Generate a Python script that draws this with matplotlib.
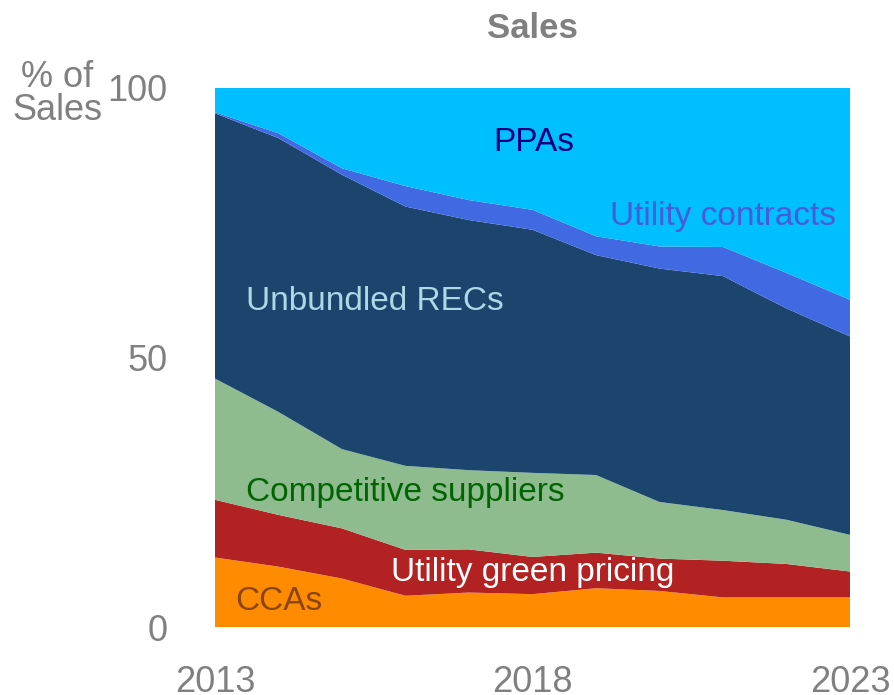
import matplotlib
matplotlib.use("Agg")
import matplotlib.pyplot as plt

plt.rcParams['font.family'] = ['Liberation Sans', 'DejaVu Sans']

years = list(range(2013, 2024))

# shares of sales (%), bottom to top
ccas = [12.9, 11.2, 9.0, 5.8, 6.4, 6.1, 7.2, 6.7, 5.5, 5.5, 5.5]
green_pricing = [10.7, 9.6, 9.3, 8.5, 8.0, 6.9, 6.6, 6.0, 6.8, 6.2, 4.8]
competitive = [22.5, 19.1, 14.7, 15.6, 14.7, 15.6, 14.4, 10.5, 9.4, 8.2, 6.8]
unbundled_recs = [49.2, 50.8, 50.9, 48.1, 46.4, 45.1, 40.8, 43.3, 43.4, 39.2, 36.8]
utility_contracts = [0.2, 0.9, 1.2, 3.8, 3.7, 3.7, 3.5, 4.1, 5.4, 6.6, 6.8]
ppas = [4.5, 8.4, 14.9, 18.2, 20.8, 22.6, 27.5, 29.4, 29.5, 34.3, 39.3]

colors = ['#ff8c00', '#b22222', '#8fbc8f', '#1b456d', '#4169e1', '#00bfff']

fig = plt.figure(figsize=(8.95, 6.95), dpi=100)
ax = fig.add_axes([0.2402, 0.0978, 0.7095, 0.7756])

ax.stackplot(years, ccas, green_pricing, competitive, unbundled_recs,
             utility_contracts, ppas, colors=colors, linewidth=0)

ax.set_xlim(2013, 2023)
ax.set_ylim(0, 100)
ax.set_xticks([2013, 2018, 2023])
ax.set_yticks([0, 50, 100])
for s in ax.spines.values():
    s.set_visible(False)
ax.tick_params(length=0, labelsize=26, labelcolor='#808080')
ax.tick_params(axis='y', pad=34)
ax.tick_params(axis='x', pad=27)

ax.set_title('Sales', fontsize=25, fontweight='bold', color='#808080', pad=36)
fig.text(57 / 895, 1 - 94 / 695, '% of\nSales', fontsize=26, color='#808080',
         ha='center', va='center', linespacing=0.95)

lab = dict(fontsize=24, ha='center', va='center')
ax.text(2018.02, 89.8, 'PPAs', color='#000080', **lab)
ax.text(2021.0, 76.1, 'Utility contracts', color='#4a5ad8', **lab)
ax.text(2015.52, 60.3, 'Unbundled RECs', color='#add8e6', **lab)
ax.text(2015.99, 25.0, 'Competitive suppliers', color='#006400', **lab)
ax.text(2018.0, 10.2, 'Utility green pricing', color='white', **lab)
ax.text(2014.0, 4.8, 'CCAs', color='#8b4513', **lab)

plt.savefig('out.png')
